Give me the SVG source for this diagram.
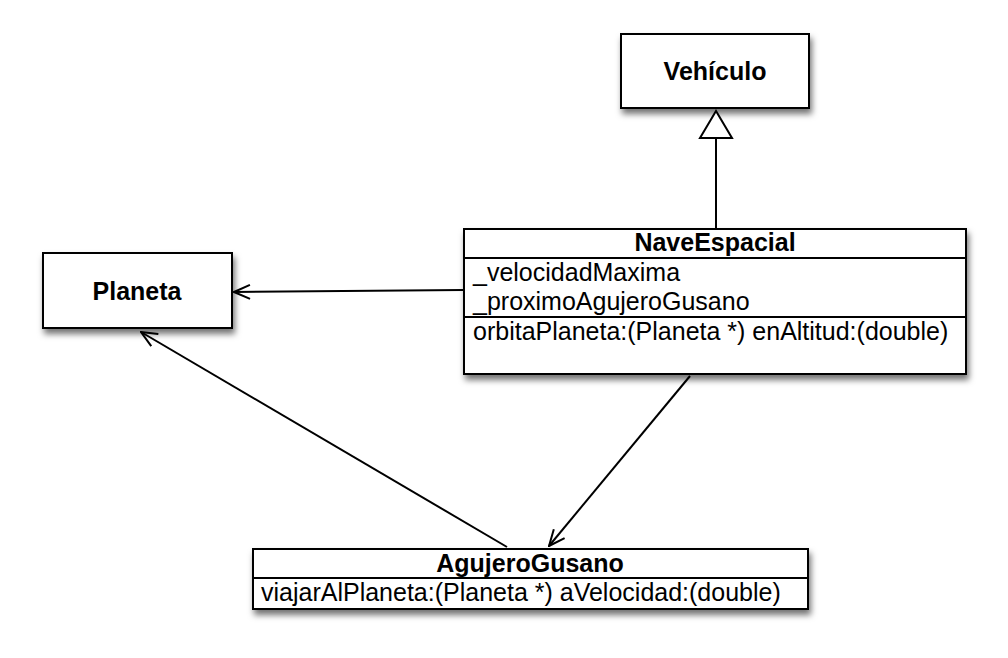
<svg xmlns="http://www.w3.org/2000/svg" width="1008" height="658" viewBox="0 0 1008 658">
<style>
.box{fill:#fff;stroke:#000;stroke-width:2;filter:url(#sh)}
.div{stroke:#000;stroke-width:2}
.t{font-family:"Liberation Sans",Arial,sans-serif;font-size:25px;fill:#000}
.b{font-weight:bold;text-anchor:middle}
.c{fill:none;stroke:#000;stroke-width:2}
</style>
<defs>
<filter id="sh" x="-10%" y="-20%" width="130%" height="160%">
<feDropShadow dx="2" dy="5" stdDeviation="3" flood-color="#000" flood-opacity="0.55"/>
</filter>
<marker id="open" markerWidth="20" markerHeight="20" refX="19" refY="8" orient="auto" markerUnits="userSpaceOnUse" viewBox="0 0 20 16">
<path d="M3,1 L19,8 L3,15" fill="none" stroke="#000" stroke-width="2"/>
</marker>
</defs>
<g id="Vehiculo">
<rect class="box" x="621" y="34" width="188" height="74"/>
<text class="t b" x="715" y="80">Vehículo</text>
</g>
<g id="Planeta">
<rect class="box" x="43" y="253" width="189" height="75"/>
<text class="t b" x="137" y="300">Planeta</text>
</g>
<g id="NaveEspacial">
<rect class="box" x="464" y="229" width="502" height="145"/>
<line class="div" x1="464" y1="258" x2="966" y2="258"/>
<line class="div" x1="464" y1="317" x2="966" y2="317"/>
<text class="t b" x="715" y="251">NaveEspacial</text>
<text class="t" x="473" y="281">_velocidadMaxima</text>
<text class="t" x="473" y="310">_proximoAgujeroGusano</text>
<text class="t" x="473" y="340">orbitaPlaneta:(Planeta *) enAltitud:(double)</text>
</g>
<g id="AgujeroGusano">
<rect class="box" x="253" y="549" width="555" height="60"/>
<line class="div" x1="253" y1="578" x2="808" y2="578"/>
<text class="t b" x="530" y="572">AgujeroGusano</text>
<text class="t" x="261" y="601">viajarAlPlaneta:(Planeta *) aVelocidad:(double)</text>
</g>
<g id="connectors">
<line class="c" x1="716" y1="229" x2="716" y2="138"/>
<polygon points="716,111 700,138 732,138" fill="#fff" stroke="#000" stroke-width="2"/>
<line class="c" x1="463" y1="290" x2="234" y2="292" marker-end="url(#open)"/>
<line class="c" x1="507" y1="547" x2="141" y2="332" marker-end="url(#open)"/>
<line class="c" x1="690" y1="376" x2="549" y2="546" marker-end="url(#open)"/>
</g>
</svg>
